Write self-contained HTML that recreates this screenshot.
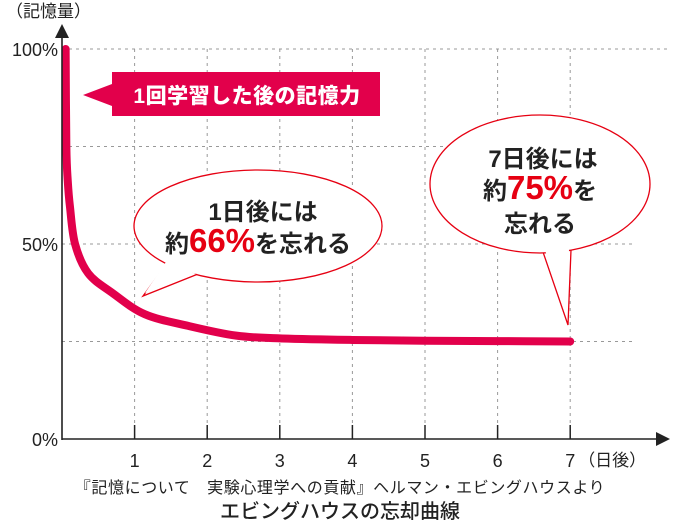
<!DOCTYPE html>
<html><head><meta charset="utf-8">
<style>
html,body{margin:0;padding:0;background:#fff;}
svg{display:block;font-family:"Liberation Sans","Noto Sans CJK JP",sans-serif;}
</style></head>
<body>
<svg id="chart" width="680" height="523" viewBox="0 0 680 523">
<g id="grid"></g>
<g id="curve"></g>
<g id="axes"></g>
<g>
<polygon points="83,95 112,84 112,72 380,72 380,116 112,116 112,106" fill="#e2004b"/>
<text x="247" y="103" font-size="21" font-weight="900" fill="#fff" text-anchor="middle" letter-spacing="0.5">1回学習した後の記憶力</text>
</g>
<g>
<path d="M168,262 L143,296 L198,274" fill="#fff" stroke="#e60012" stroke-width="1.3"/>
<ellipse cx="258" cy="226" rx="124" ry="56" fill="#fff" stroke="#e60012" stroke-width="1.3"/>
<path d="M166,262 L145,293 L196,274 Z" fill="#fff"/>
<text x="263" y="220" font-size="24" font-weight="bold" fill="#222" text-anchor="middle">1日後には</text>
<text x="258" y="252" font-size="24" font-weight="bold" fill="#222" text-anchor="middle">約<tspan font-size="33" font-weight="900" fill="#e60012">66%</tspan>を忘れる</text>
</g>
<g>
<path d="M543,252 L568,325 L571,250" fill="#fff" stroke="#e60012" stroke-width="1.3"/>
<ellipse cx="540" cy="184" rx="110" ry="69" fill="#fff" stroke="#e60012" stroke-width="1.3"/>
<path d="M545,250 L567,318 L569,249 Z" fill="#fff"/>
<text x="543" y="167" font-size="24" font-weight="bold" fill="#222" text-anchor="middle">7日後には</text>
<text x="540" y="199" font-size="24" font-weight="bold" fill="#222" text-anchor="middle">約<tspan font-size="33" font-weight="900" fill="#e60012">75%</tspan>を</text>
<text x="540" y="232" font-size="24" font-weight="bold" fill="#222" text-anchor="middle">忘れる</text>
</g>
<text x="6" y="17" font-size="17" fill="#222">（記憶量）</text>
<text x="340" y="493" font-size="16" fill="#222" text-anchor="middle" letter-spacing="0.6">『記憶について　実験心理学への貢献』ヘルマン・エビングハウスより</text>
<text x="340" y="518" font-size="20" font-weight="500" fill="#222" text-anchor="middle">エビングハウスの忘却曲線</text>
</svg>
<script>
const dayTicks = [1,2,3,4,5,6,7];
const pctTicks = [0,50,100];
const gridPcts = [25,50,75,100];
const curveDays = [0.05,0.06,0.08,0.11,0.18,0.36,0.69,1.14,1.74,2.4,3,4,5,6,7];
const curveVals = [100,75,66,59.5,50,42.5,37.5,32,29,26.5,25.8,25.4,25.2,25.1,25];

const NS='http://www.w3.org/2000/svg';
const X0=62, XS=72.6, Y0=439, YS=3.9;
const xp=d=>X0+d*XS, yp=v=>Y0-v*YS;
function mk(tag,attrs,parent){const e=document.createElementNS(NS,tag);for(const k in attrs)e.setAttribute(k,attrs[k]);parent.appendChild(e);return e;}
const grid=document.getElementById('grid'), axes=document.getElementById('axes'), cur=document.getElementById('curve');
gridPcts.forEach(p=>{
  const l=mk('line',{x1:X0,x2:p==100?668:632,y1:yp(p),y2:yp(p),stroke:'#999','stroke-width':1,'stroke-dasharray':'3,4'},grid);
  
  
});
dayTicks.forEach(d=>{
  const l=mk('line',{x1:xp(d),x2:xp(d),y1:yp(100),y2:Y0,stroke:'#999','stroke-width':1,'stroke-dasharray':'3,4'},grid);
  
  
  const t=mk('line',{x1:xp(d),x2:xp(d),y1:Y0-14,y2:Y0,stroke:'#222','stroke-width':1.5},axes);
  
  
  const tx=mk('text',{x:xp(d),y:Y0+28,'font-size':18,fill:'#222','text-anchor':'middle'},axes);
  tx.textContent=d;
  
  
});
const unit=mk('text',{x:xp(7)+8,y:Y0+27,'font-size':17,fill:'#222'},axes);
unit.textContent='（日後）';


pctTicks.forEach(p=>{
  const tx=mk('text',{x:58,y:yp(p)+7,'font-size':18,fill:'#222','text-anchor':'end'},axes);
  tx.textContent=p+'%';
  
  
});
const ya=mk('line',{x1:X0,x2:X0,y1:Y0+1,y2:36,stroke:'#222','stroke-width':1.6},axes);


const yar=mk('polygon',{points:`${X0-7},38 ${X0+7},38 ${X0},24`,fill:'#222'},axes);


const xa=mk('line',{x1:X0,x2:660,y1:Y0,y2:Y0,stroke:'#222','stroke-width':1.6},axes);


const xar=mk('polygon',{points:`656,${Y0-7} 656,${Y0+7} 670,${Y0}`,fill:'#222'},axes);


const pts=curveDays.map((d,i)=>[xp(d),yp(curveVals[i])]);
let dstr='M'+pts[0][0]+','+pts[0][1];
for(let i=0;i<pts.length-1;i++){
  const p0=pts[Math.max(0,i-1)],p1=pts[i],p2=pts[i+1],p3=pts[Math.min(pts.length-1,i+2)];
  const c1=[p1[0]+(p2[0]-p0[0])/6,p1[1]+(p2[1]-p0[1])/6];
  const c2=[p2[0]-(p3[0]-p1[0])/6,p2[1]-(p3[1]-p1[1])/6];
  dstr+=` C${c1[0]},${c1[1]} ${c2[0]},${c2[1]} ${p2[0]},${p2[1]}`;
}
const path=mk('path',{d:dstr,fill:'none',stroke:'#e2004b','stroke-width':8,'stroke-linecap':'round','stroke-linejoin':'round'},cur);


</script>
</body></html>
